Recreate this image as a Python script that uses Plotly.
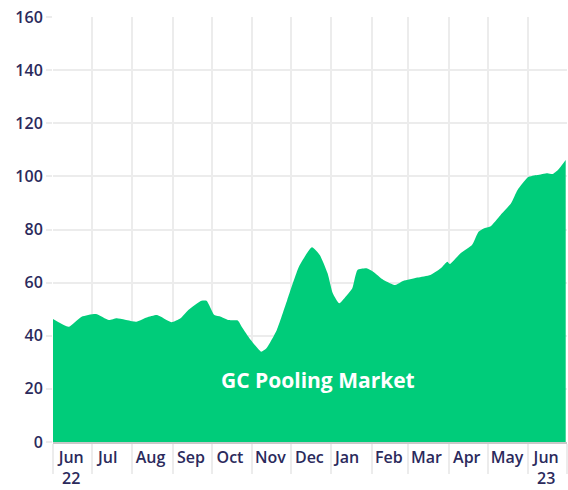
import plotly.graph_objects as go

dates = [
    "2022-06-01", "2022-06-13", "2022-06-23", "2022-07-04", "2022-07-14", "2022-07-20",
    "2022-08-04", "2022-08-12", "2022-08-20", "2022-08-31", "2022-09-07", "2022-09-13",
    "2022-09-23", "2022-09-27", "2022-10-03", "2022-10-08", "2022-10-14", "2022-10-21",
    "2022-10-24", "2022-10-31", "2022-11-08", "2022-11-12", "2022-11-20", "2022-11-28",
    "2022-12-07", "2022-12-17", "2022-12-23", "2022-12-29", "2023-01-02", "2023-01-07",
    "2023-01-13", "2023-01-17", "2023-01-21", "2023-01-28", "2023-02-02", "2023-02-10",
    "2023-02-19", "2023-02-25", "2023-03-08", "2023-03-18", "2023-03-26", "2023-03-31",
    "2023-04-02", "2023-04-10", "2023-04-19", "2023-04-24", "2023-04-28", "2023-05-03",
    "2023-05-11", "2023-05-19", "2023-05-24", "2023-06-01", "2023-06-08", "2023-06-16",
    "2023-06-20", "2023-06-24", "2023-06-30",
]
values = [
    46.3, 43.4, 47.2, 48.2, 45.9, 46.6,
    45.3, 46.9, 47.8, 45.1, 46.6, 49.7,
    53.2, 53.2, 47.8, 47.2, 45.9, 45.7,
    43.4, 38.4, 34.0, 35.3, 42.2, 53.5,
    66.0, 73.3, 70.4, 63.5, 56.0, 52.2,
    55.3, 57.9, 64.8, 65.4, 64.1, 61.0,
    59.1, 60.6, 61.9, 62.9, 65.4, 67.9,
    67.0, 71.0, 74.2, 79.2, 80.4, 81.1,
    85.5, 89.9, 94.9, 99.7, 100.5, 101.2,
    100.9, 102.4, 106.2,
]
tick_dates = [
    "2022-06-15", "2022-07-13", "2022-08-15", "2022-09-15", "2022-10-15", "2022-11-15",
    "2022-12-15", "2023-01-13", "2023-02-14", "2023-03-15", "2023-04-15", "2023-05-16",
    "2023-06-15",
]
tick_labels = [
    "Jun<br>22", "Jul", "Aug", "Sep", "Oct", "Nov", "Dec", "Jan", "Feb", "Mar", "Apr",
    "May", "Jun<br>23",
]
y_ticks = [0, 20, 40, 60, 80, 100, 120, 140, 160]
series_name = "GC Pooling Market"

navy = "#2b2a5c"
grid = "#ececec"

fig = go.Figure()
fig.add_trace(go.Scatter(
    x=dates, y=values, mode="lines", fill="tozeroy",
    line=dict(width=0, color="#00cc7a", shape="spline", smoothing=0.5),
    fillcolor="#00cc7a", name=series_name, showlegend=False,
))
fig.add_annotation(
    text="<b>" + series_name + "</b>", xref="paper", yref="paper",
    x=0.516, y=0.146, xanchor="center", yanchor="middle", showarrow=False,
    font=dict(family="Open Sans", size=21, color="white"),
)
fig.update_layout(
    width=568, height=490,
    margin=dict(l=53, r=1, t=17, b=48),
    paper_bgcolor="white", plot_bgcolor="white",
    font=dict(family="Open Sans", color=navy),
    xaxis=dict(
        range=["2022-06-01", "2023-07-01"], automargin=False,
        tickmode="array", tickvals=tick_dates, ticktext=tick_labels,
        ticks="", showgrid=False,
        tickfont=dict(size=16, color=navy, weight=600),
        showline=True, linecolor="#c8c8c8", linewidth=2,
        minor=dict(dtick="M1", tick0="2022-06-01", showgrid=True, gridcolor=grid,
                   gridwidth=2, ticks="outside", ticklen=30, tickcolor=grid, tickwidth=2),
        zeroline=False,
    ),
    yaxis=dict(
        range=[0, 160], tickvals=y_ticks, automargin=False,
        showgrid=True, gridcolor=grid, gridwidth=2,
        ticks="outside", ticklen=6, tickcolor=grid, tickwidth=2,
        tickfont=dict(size=16, color=navy, weight=600),
        zeroline=False, showline=False,
    ),
)
fig.write_html(
    "out.html",
    config={"displayModeBar": False},
    post_script="document.body.style.margin='0';document.body.style.overflow='hidden';",
)
